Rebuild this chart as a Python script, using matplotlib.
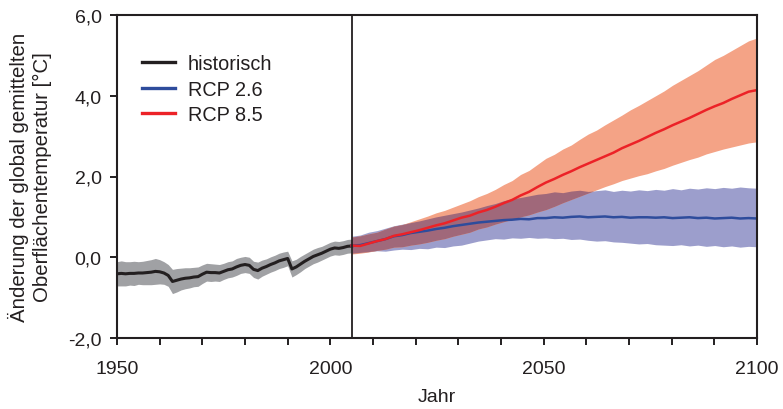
import numpy as np
import matplotlib
matplotlib.use('Agg')
import matplotlib.pyplot as plt

plt.rcParams['font.family'] = ['Liberation Sans', 'DejaVu Sans']

# historical simulations, annual 1950-2005
hist_years = list(range(1950, 2006))
hist_mean = [-0.41, -0.40, -0.41, -0.40, -0.40, -0.39, -0.39, -0.38, -0.37, -0.35,
             -0.36, -0.39, -0.45, -0.60, -0.57, -0.54, -0.52, -0.51, -0.49, -0.48,
             -0.42, -0.37, -0.38, -0.38, -0.39, -0.35, -0.31, -0.29, -0.24, -0.20,
             -0.18, -0.20, -0.30, -0.33, -0.27, -0.23, -0.18, -0.14, -0.09, -0.06,
             -0.03, -0.29, -0.24, -0.17, -0.10, -0.04, 0.02, 0.06, 0.10, 0.15,
             0.20, 0.23, 0.22, 0.24, 0.27, 0.28]
hist_spread = [0.30, 0.31, 0.30, 0.29, 0.30, 0.28, 0.29, 0.30, 0.31, 0.32,
               0.30, 0.28, 0.27, 0.30, 0.29, 0.27, 0.26, 0.25, 0.24, 0.24,
               0.23, 0.22, 0.22, 0.21, 0.21, 0.20, 0.20, 0.20, 0.21, 0.20,
               0.20, 0.20, 0.20, 0.21, 0.20, 0.19, 0.19, 0.19, 0.19, 0.19,
               0.18, 0.20, 0.19, 0.19, 0.18, 0.18, 0.18, 0.18, 0.17, 0.17,
               0.17, 0.17, 0.17, 0.17, 0.17, 0.17]

# projections 2005-2100 (49 steps)
proj_years = np.linspace(2005, 2100, 49)
rcp85_mean = [0.29, 0.28, 0.34, 0.40, 0.45, 0.53, 0.57, 0.62, 0.67, 0.73,
              0.79, 0.84, 0.91, 0.98, 1.03, 1.11, 1.17, 1.25, 1.34, 1.42,
              1.53, 1.62, 1.74, 1.85, 1.94, 2.04, 2.13, 2.23, 2.32, 2.41,
              2.50, 2.59, 2.70, 2.79, 2.88, 2.98, 3.08, 3.17, 3.27, 3.36,
              3.45, 3.55, 3.65, 3.74, 3.82, 3.92, 4.01, 4.10, 4.14]
rcp85_hi = [0.50, 0.53, 0.58, 0.62, 0.70, 0.77, 0.81, 0.88, 0.95, 1.02,
            1.10, 1.16, 1.24, 1.32, 1.40, 1.50, 1.58, 1.68, 1.80, 1.90,
            2.05, 2.15, 2.30, 2.45, 2.55, 2.68, 2.78, 2.92, 3.05, 3.15,
            3.28, 3.40, 3.52, 3.65, 3.76, 3.88, 4.00, 4.12, 4.26, 4.38,
            4.50, 4.62, 4.76, 4.90, 5.00, 5.12, 5.24, 5.36, 5.43]
rcp85_lo = [0.08, 0.10, 0.13, 0.17, 0.20, 0.25, 0.26, 0.30, 0.33, 0.37,
            0.42, 0.46, 0.52, 0.57, 0.62, 0.70, 0.75, 0.82, 0.88, 0.94,
            1.00, 1.05, 1.12, 1.18, 1.26, 1.35, 1.43, 1.51, 1.59, 1.67,
            1.75, 1.82, 1.90, 1.96, 2.02, 2.07, 2.14, 2.20, 2.28, 2.35,
            2.42, 2.48, 2.56, 2.62, 2.68, 2.73, 2.78, 2.83, 2.86]
rcp26_mean = [0.29, 0.30, 0.35, 0.40, 0.45, 0.52, 0.55, 0.60, 0.63, 0.66,
              0.70, 0.73, 0.77, 0.80, 0.83, 0.86, 0.88, 0.90, 0.92, 0.93,
              0.95, 0.94, 0.97, 0.97, 0.99, 0.98, 1.00, 1.01, 0.99, 1.00,
              1.01, 0.99, 1.00, 0.98, 0.99, 0.99, 0.98, 0.99, 0.97, 0.98,
              0.99, 0.97, 0.98, 0.96, 0.97, 0.98, 0.96, 0.97, 0.96]
rcp26_hi = [0.52, 0.55, 0.62, 0.66, 0.72, 0.78, 0.82, 0.86, 0.90, 0.95,
            1.00, 1.04, 1.08, 1.12, 1.17, 1.22, 1.28, 1.33, 1.40, 1.45,
            1.48, 1.52, 1.56, 1.58, 1.62, 1.60, 1.64, 1.66, 1.63, 1.65,
            1.67, 1.63, 1.66, 1.64, 1.67, 1.65, 1.68, 1.66, 1.70, 1.67,
            1.71, 1.69, 1.72, 1.70, 1.73, 1.71, 1.74, 1.72, 1.71]
rcp26_lo = [0.10, 0.12, 0.14, 0.16, 0.15, 0.18, 0.20, 0.19, 0.22, 0.21,
            0.25, 0.24, 0.28, 0.30, 0.35, 0.40, 0.43, 0.46, 0.45, 0.48,
            0.47, 0.49, 0.47, 0.48, 0.46, 0.47, 0.44, 0.45, 0.42, 0.40,
            0.41, 0.38, 0.37, 0.35, 0.33, 0.34, 0.31, 0.30, 0.29, 0.31,
            0.28, 0.30, 0.27, 0.29, 0.26, 0.28, 0.25, 0.27, 0.26]

hist_mean = np.array(hist_mean)
hist_spread = np.array(hist_spread)
r_lo, r_hi = np.array(rcp85_lo), np.array(rcp85_hi)
b_lo, b_hi = np.array(rcp26_lo), np.array(rcp26_hi)

fig = plt.figure(figsize=(7.83, 4.10), dpi=100)
ax = fig.add_axes([117/783, 1 - 339/410, 640/783, 323/410])

ax.fill_between(hist_years, hist_mean - hist_spread, hist_mean + hist_spread,
                color='#A0A1A4', lw=0)
ax.fill_between(proj_years, b_lo, b_hi, color='#9C9ECC', lw=0)
ax.fill_between(proj_years, r_lo, r_hi, color='#F4A386', lw=0)
# where both ranges overlap
ov_lo = np.maximum(r_lo, b_lo)
ov_hi = np.minimum(r_hi, b_hi)
ax.fill_between(proj_years, ov_lo, ov_hi, where=ov_hi > ov_lo, interpolate=True,
                color='#A0687A', lw=0)

ax.plot(hist_years, hist_mean, color='#231F20', lw=2.2, label='historisch')
ax.plot(proj_years, rcp26_mean, color='#2E4C9C', lw=1.8, label='RCP 2.6')
ax.plot(proj_years, rcp85_mean, color='#EC2227', lw=1.8, label='RCP 8.5')

ax.axvline(2005, color='#231F20', lw=1.3)

ax.set_xlim(1950, 2100)
ax.set_ylim(-2, 6)
ax.set_xticks(range(1950, 2101, 10))
ax.set_xticklabels([str(y) if y % 50 == 0 else '' for y in range(1950, 2101, 10)])
yticks = [-2, 0, 2, 4, 6]
ax.set_yticks(yticks)
ax.set_yticklabels([f'{v:.1f}'.replace('.', ',') for v in yticks])
ax.tick_params(direction='out', length=5, width=1.4, color='#231F20',
               labelsize=14, labelcolor='#231F20')
ax.tick_params(axis='x', pad=11)
ax.tick_params(axis='y', pad=6)
for s in ax.spines.values():
    s.set_linewidth(1.5)
    s.set_color('#231F20')

leg = ax.legend(loc='upper left', bbox_to_anchor=(25/640, 1 - 39/323), frameon=False,
                fontsize=14.3, borderpad=0, borderaxespad=0, handlelength=1.65,
                handletextpad=0.65, labelspacing=0.33)
for line in leg.get_lines():
    line.set_linewidth(2.4)
for t in leg.get_texts():
    t.set_color('#231F20')

fig.text(30/783, 1 - 177/410, 'Änderung der global gemittelten\nOberflächentemperatur [°C]',
         rotation=90, ha='center', va='center', fontsize=14.7, color='#231F20',
         linespacing=1.3)
fig.text(437/783, 1 - 398/410, 'Jahr', ha='center', va='center', fontsize=14,
         color='#231F20')

fig.savefig('out.png', dpi=100)
